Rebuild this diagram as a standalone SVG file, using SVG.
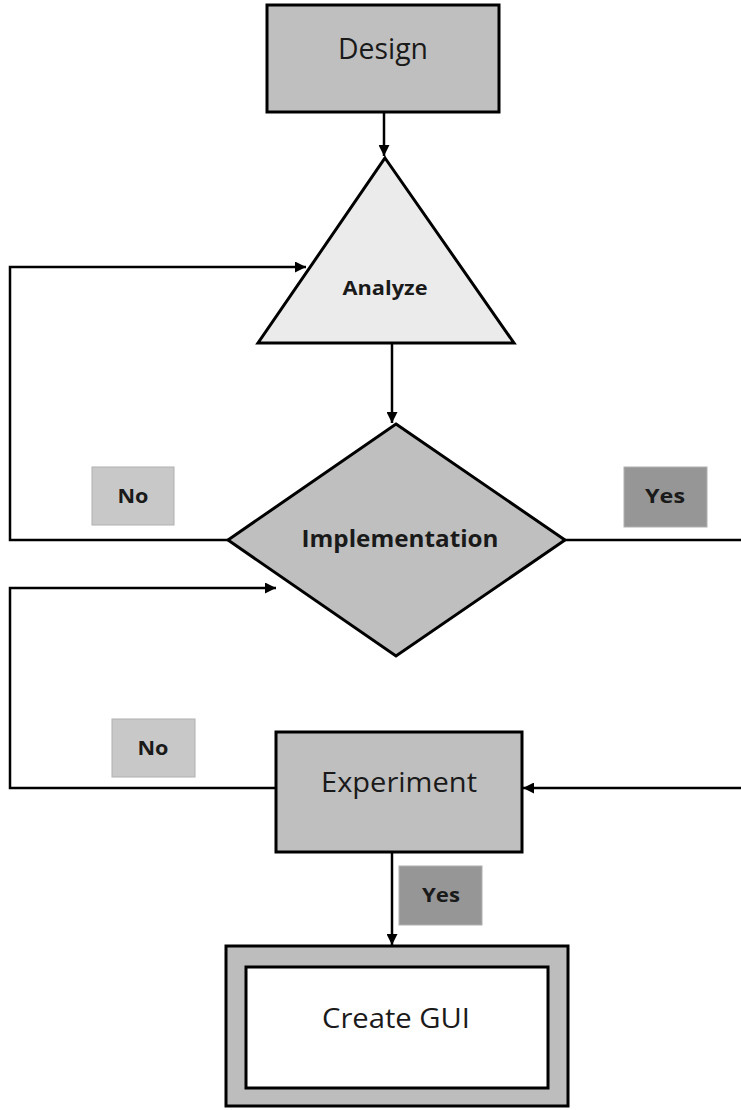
<svg xmlns="http://www.w3.org/2000/svg" width="741" height="1110" viewBox="0 0 741 1110">
<defs>
<marker id="arr" viewBox="0 0 10 10" refX="10" refY="5" markerWidth="11" markerHeight="11" markerUnits="userSpaceOnUse" orient="auto">
<path d="M0,0 L10,5 L0,10 z" fill="#000"/>
</marker>
</defs>
<style>
.node{stroke:#000;stroke-width:3;}
.conn{stroke:#000;stroke-width:2.5;fill:none;}
.lbl{font-family:"Open Sans","Liberation Sans",sans-serif;fill:#1a1a1a;text-anchor:middle;}
.b{font-weight:bold;}
.tag{stroke:#b0b0b0;stroke-width:1;}
</style>
<rect width="741" height="1110" fill="#fff"/>
<g id="connectors">
<path class="conn" d="M384,112 L384,156" marker-end="url(#arr)"/>
<path class="conn" d="M392,343 L392,423" marker-end="url(#arr)"/>
<path class="conn" d="M228,540 L10,540 L10,267 L306,267" marker-end="url(#arr)"/>
<path class="conn" d="M565,540 L741,540"/>
<path class="conn" d="M276,788 L10,788 L10,588 L276,588" marker-end="url(#arr)"/>
<path class="conn" d="M741,788 L523,788" marker-end="url(#arr)"/>
<path class="conn" d="M392,852 L392,945" marker-end="url(#arr)"/>
</g>
<g id="node-design">
<rect class="node" x="267" y="5" width="232" height="107" fill="#bfbfbf"/>
<text class="lbl" x="383" y="59" font-size="30" textLength="90" lengthAdjust="spacingAndGlyphs">Design</text>
</g>
<g id="node-analyze">
<polygon class="node" points="385,158 514,343 258,343" fill="#ebebeb"/>
<text class="lbl b" x="385" y="295" font-size="20" textLength="85" lengthAdjust="spacingAndGlyphs">Analyze</text>
</g>
<g id="node-implementation">
<polygon class="node" points="396,424 565,540 396,656 228,540" fill="#bfbfbf"/>
<text class="lbl b" x="400" y="547" font-size="23" textLength="197" lengthAdjust="spacingAndGlyphs">Implementation</text>
</g>
<g id="label-no-1">
<rect class="tag" x="92" y="467" width="82" height="58" fill="#c8c8c8"/>
<text class="lbl b" x="133" y="503" font-size="20" textLength="31" lengthAdjust="spacingAndGlyphs">No</text>
</g>
<g id="label-yes-1">
<rect class="tag" x="624" y="467" width="83" height="60" fill="#969696" stroke="#888"/>
<text class="lbl b" x="665" y="503" font-size="20" textLength="40" lengthAdjust="spacingAndGlyphs">Yes</text>
</g>
<g id="node-experiment">
<rect class="node" x="276" y="732" width="246" height="120" fill="#bfbfbf"/>
<text class="lbl" x="399" y="792" font-size="28" textLength="156" lengthAdjust="spacingAndGlyphs">Experiment</text>
</g>
<g id="label-no-2">
<rect class="tag" x="112" y="719" width="83" height="58" fill="#c8c8c8"/>
<text class="lbl b" x="153" y="755" font-size="20" textLength="31" lengthAdjust="spacingAndGlyphs">No</text>
</g>
<g id="label-yes-2">
<rect class="tag" x="399" y="866" width="83" height="59" fill="#969696" stroke="#888"/>
<text class="lbl b" x="441" y="902" font-size="20" textLength="38" lengthAdjust="spacingAndGlyphs">Yes</text>
</g>
<g id="node-create-gui">
<rect class="node" x="226" y="946" width="342" height="160" fill="#bdbdbd"/>
<rect class="node" x="246" y="967" width="302" height="121" fill="#fff"/>
<text class="lbl" x="396" y="1028" font-size="28" textLength="148" lengthAdjust="spacingAndGlyphs">Create GUI</text>
</g>
</svg>
